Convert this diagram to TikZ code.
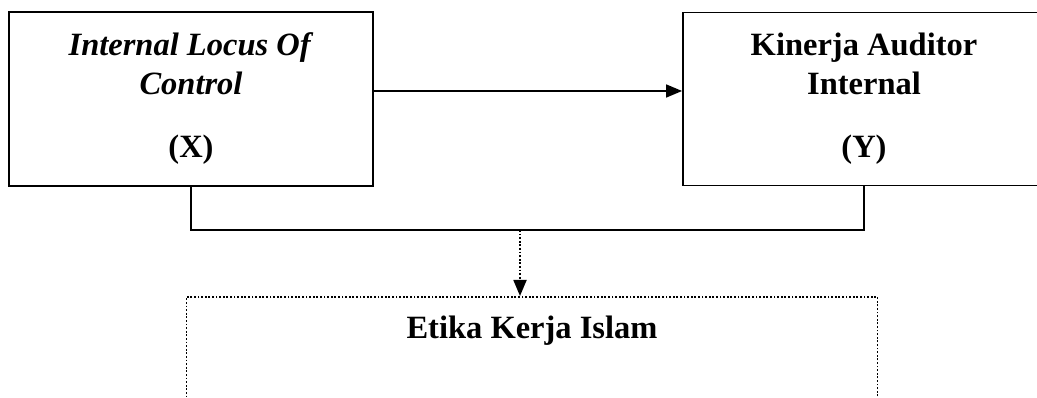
\documentclass[tikz,border=0pt]{standalone}
\usepackage{fontspec}
\setmainfont{Liberation Serif}
\usetikzlibrary{arrows.meta}

\begin{document}
\begin{tikzpicture}[x=1pt, y=1pt, >={Triangle[length=16pt,width=13pt]},
	    varbox/.style={draw, line width=1.8pt, align=center, inner sep=0pt, font=\fontsize{32.5}{39}\selectfont\bfseries},
	    dotline/.style={line width=1.8pt, dash pattern=on 1.8pt off 1.8pt}]
	    \clip (0, 0) rectangle (1037, 398);
	    
	    \node[varbox, minimum width=364pt, minimum height=174pt] at (191, 299) (X) {\textit{Internal Locus Of}\\\textit{Control}\\[24pt](X)};
	    \node[varbox, minimum width=362pt, minimum height=173pt] at (864, 299) (Y) {Kinerja Auditor\\Internal\\[24pt](Y)};
	    \node[varbox, dotline, minimum width=691pt, text height=42pt, text depth=90pt, anchor=north] at (532, 102) (Z) {Etika Kerja Islam};
	    \coordinate (join) at (520, 168);
	    
	    \draw[->, line width=1.5pt] ([yshift=8pt]X.east) -- ([yshift=8pt]Y.west);
	    \draw[line width=1.8pt] (X.south) |- (join) -| (Y.south);
	    \draw[->, dotline] (join) -- (join |- Z.north);
	    
	    \end{tikzpicture}
\end{document}
